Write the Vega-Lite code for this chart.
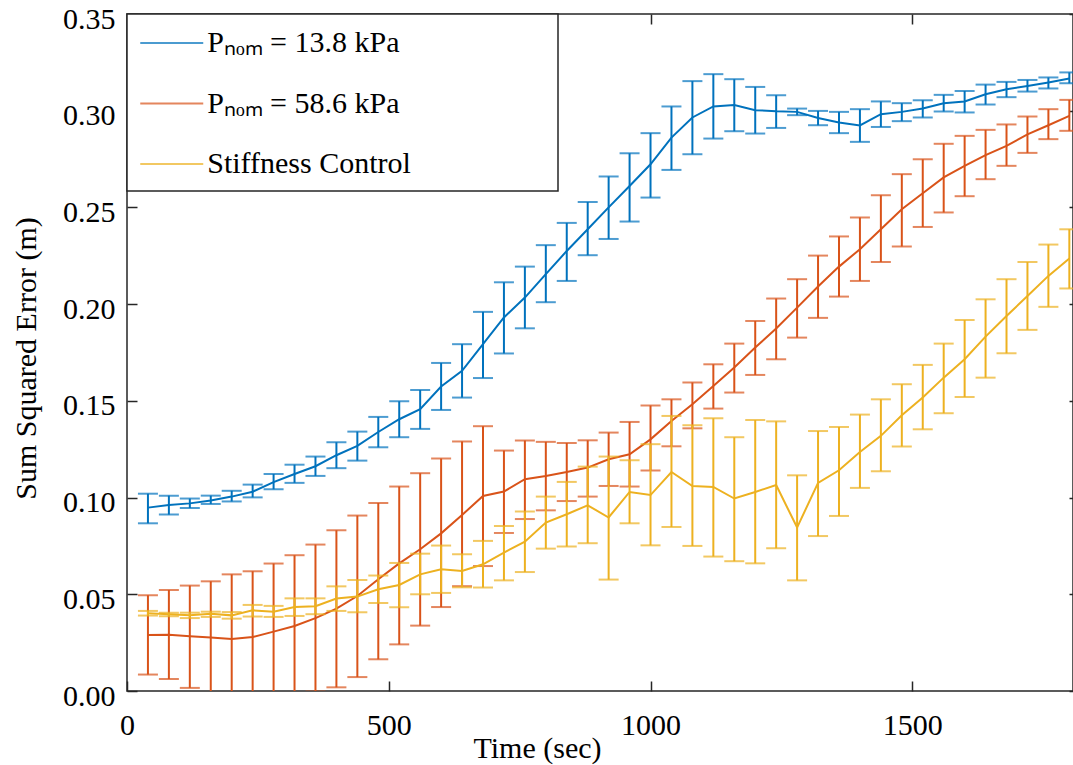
{
  "$schema": "https://vega.github.io/schema/vega-lite/v6.json",
  "autosize": {"type": "none"},
  "padding": {"left": 127, "top": 14, "right": 0, "bottom": 74},
  "width": 946,
  "height": 677,
  "config": {
    "view": {"stroke": "#262626", "strokeWidth": 1.5},
    "font": "Liberation Serif",
    "legend": {"strokeWidth": 1.5},
    "axis": {"grid": false, "domain": false, "tickColor": "#262626", "tickWidth": 1.5, "labelFont": "Liberation Serif", "labelFontSize": 30, "labelColor": "#000000", "titleFont": "Liberation Serif", "titleFontSize": 30, "titleFontWeight": "normal", "titleColor": "#000000", "labelFlush": false, "labelOverlap": false}
  },
  "datasets": {
    "blue": [
      {"series":"P\u2099\u2092\u2098 = 13.8 kPa","t":40,"m":0.0948,"lo":0.0867,"hi":0.102},
      {"series":"P\u2099\u2092\u2098 = 13.8 kPa","t":80,"m":0.0962,"lo":0.0912,"hi":0.101},
      {"series":"P\u2099\u2092\u2098 = 13.8 kPa","t":120,"m":0.097,"lo":0.0946,"hi":0.0995},
      {"series":"P\u2099\u2092\u2098 = 13.8 kPa","t":160,"m":0.0985,"lo":0.0967,"hi":0.101},
      {"series":"P\u2099\u2092\u2098 = 13.8 kPa","t":200,"m":0.1005,"lo":0.098,"hi":0.1035},
      {"series":"P\u2099\u2092\u2098 = 13.8 kPa","t":240,"m":0.103,"lo":0.1001,"hi":0.1067},
      {"series":"P\u2099\u2092\u2098 = 13.8 kPa","t":280,"m":0.108,"lo":0.1043,"hi":0.1122},
      {"series":"P\u2099\u2092\u2098 = 13.8 kPa","t":320,"m":0.1122,"lo":0.1076,"hi":0.117},
      {"series":"P\u2099\u2092\u2098 = 13.8 kPa","t":360,"m":0.1162,"lo":0.1112,"hi":0.1212},
      {"series":"P\u2099\u2092\u2098 = 13.8 kPa","t":400,"m":0.1219,"lo":0.1152,"hi":0.1286},
      {"series":"P\u2099\u2092\u2098 = 13.8 kPa","t":440,"m":0.1267,"lo":0.1191,"hi":0.1341},
      {"series":"P\u2099\u2092\u2098 = 13.8 kPa","t":480,"m":0.1339,"lo":0.126,"hi":0.1417},
      {"series":"P\u2099\u2092\u2098 = 13.8 kPa","t":520,"m":0.1405,"lo":0.1312,"hi":0.1498},
      {"series":"P\u2099\u2092\u2098 = 13.8 kPa","t":560,"m":0.1457,"lo":0.1355,"hi":0.1556},
      {"series":"P\u2099\u2092\u2098 = 13.8 kPa","t":600,"m":0.1574,"lo":0.1453,"hi":0.1696},
      {"series":"P\u2099\u2092\u2098 = 13.8 kPa","t":640,"m":0.1655,"lo":0.1517,"hi":0.1793},
      {"series":"P\u2099\u2092\u2098 = 13.8 kPa","t":680,"m":0.1793,"lo":0.1618,"hi":0.196},
      {"series":"P\u2099\u2092\u2098 = 13.8 kPa","t":720,"m":0.1931,"lo":0.1745,"hi":0.2113},
      {"series":"P\u2099\u2092\u2098 = 13.8 kPa","t":760,"m":0.2034,"lo":0.1875,"hi":0.2194},
      {"series":"P\u2099\u2092\u2098 = 13.8 kPa","t":800,"m":0.2155,"lo":0.201,"hi":0.2305},
      {"series":"P\u2099\u2092\u2098 = 13.8 kPa","t":840,"m":0.2275,"lo":0.212,"hi":0.242},
      {"series":"P\u2099\u2092\u2098 = 13.8 kPa","t":880,"m":0.2387,"lo":0.2253,"hi":0.2528},
      {"series":"P\u2099\u2092\u2098 = 13.8 kPa","t":920,"m":0.25,"lo":0.2337,"hi":0.266},
      {"series":"P\u2099\u2092\u2098 = 13.8 kPa","t":960,"m":0.2611,"lo":0.2427,"hi":0.278},
      {"series":"P\u2099\u2092\u2098 = 13.8 kPa","t":1000,"m":0.2723,"lo":0.2551,"hi":0.2884},
      {"series":"P\u2099\u2092\u2098 = 13.8 kPa","t":1040,"m":0.2861,"lo":0.2694,"hi":0.3022},
      {"series":"P\u2099\u2092\u2098 = 13.8 kPa","t":1080,"m":0.2965,"lo":0.2775,"hi":0.3153},
      {"series":"P\u2099\u2092\u2098 = 13.8 kPa","t":1120,"m":0.3022,"lo":0.2856,"hi":0.3189},
      {"series":"P\u2099\u2092\u2098 = 13.8 kPa","t":1160,"m":0.303,"lo":0.2894,"hi":0.3163},
      {"series":"P\u2099\u2092\u2098 = 13.8 kPa","t":1200,"m":0.3003,"lo":0.2882,"hi":0.3123},
      {"series":"P\u2099\u2092\u2098 = 13.8 kPa","t":1240,"m":0.2997,"lo":0.2911,"hi":0.308},
      {"series":"P\u2099\u2092\u2098 = 13.8 kPa","t":1280,"m":0.2994,"lo":0.2977,"hi":0.3011},
      {"series":"P\u2099\u2092\u2098 = 13.8 kPa","t":1320,"m":0.2962,"lo":0.2925,"hi":0.2999},
      {"series":"P\u2099\u2092\u2098 = 13.8 kPa","t":1360,"m":0.2939,"lo":0.2884,"hi":0.2994},
      {"series":"P\u2099\u2092\u2098 = 13.8 kPa","t":1400,"m":0.2924,"lo":0.2839,"hi":0.3008},
      {"series":"P\u2099\u2092\u2098 = 13.8 kPa","t":1440,"m":0.2982,"lo":0.2916,"hi":0.3048},
      {"series":"P\u2099\u2092\u2098 = 13.8 kPa","t":1480,"m":0.2994,"lo":0.2946,"hi":0.3039},
      {"series":"P\u2099\u2092\u2098 = 13.8 kPa","t":1520,"m":0.3011,"lo":0.2965,"hi":0.3054},
      {"series":"P\u2099\u2092\u2098 = 13.8 kPa","t":1560,"m":0.3039,"lo":0.2996,"hi":0.3082},
      {"series":"P\u2099\u2092\u2098 = 13.8 kPa","t":1600,"m":0.3048,"lo":0.2991,"hi":0.3102},
      {"series":"P\u2099\u2092\u2098 = 13.8 kPa","t":1640,"m":0.3085,"lo":0.3032,"hi":0.3135},
      {"series":"P\u2099\u2092\u2098 = 13.8 kPa","t":1680,"m":0.3111,"lo":0.307,"hi":0.3149},
      {"series":"P\u2099\u2092\u2098 = 13.8 kPa","t":1720,"m":0.3128,"lo":0.3099,"hi":0.3159},
      {"series":"P\u2099\u2092\u2098 = 13.8 kPa","t":1760,"m":0.3146,"lo":0.3115,"hi":0.3172},
      {"series":"P\u2099\u2092\u2098 = 13.8 kPa","t":1800,"m":0.3166,"lo":0.3142,"hi":0.3198}
    ],
    "orange": [
      {"series":"P\u2099\u2092\u2098 = 58.6 kPa","t":40,"m":0.029,"lo":0.0085,"hi":0.0495},
      {"series":"P\u2099\u2092\u2098 = 58.6 kPa","t":80,"m":0.0291,"lo":0.0062,"hi":0.0522},
      {"series":"P\u2099\u2092\u2098 = 58.6 kPa","t":120,"m":0.0283,"lo":0.0016,"hi":0.0545},
      {"series":"P\u2099\u2092\u2098 = 58.6 kPa","t":160,"m":0.0276,"lo":-0.0015,"hi":0.0567},
      {"series":"P\u2099\u2092\u2098 = 58.6 kPa","t":200,"m":0.0269,"lo":-0.0065,"hi":0.0603},
      {"series":"P\u2099\u2092\u2098 = 58.6 kPa","t":240,"m":0.0279,"lo":-0.006,"hi":0.0619},
      {"series":"P\u2099\u2092\u2098 = 58.6 kPa","t":280,"m":0.0307,"lo":-0.0045,"hi":0.0659},
      {"series":"P\u2099\u2092\u2098 = 58.6 kPa","t":320,"m":0.0336,"lo":-0.003,"hi":0.0702},
      {"series":"P\u2099\u2092\u2098 = 58.6 kPa","t":360,"m":0.0377,"lo":-0.0003,"hi":0.0757},
      {"series":"P\u2099\u2092\u2098 = 58.6 kPa","t":400,"m":0.0426,"lo":0.0019,"hi":0.0831},
      {"series":"P\u2099\u2092\u2098 = 58.6 kPa","t":440,"m":0.0491,"lo":0.0072,"hi":0.0907},
      {"series":"P\u2099\u2092\u2098 = 58.6 kPa","t":480,"m":0.0578,"lo":0.0164,"hi":0.0972},
      {"series":"P\u2099\u2092\u2098 = 58.6 kPa","t":520,"m":0.066,"lo":0.0241,"hi":0.1057},
      {"series":"P\u2099\u2092\u2098 = 58.6 kPa","t":560,"m":0.0733,"lo":0.0338,"hi":0.1126},
      {"series":"P\u2099\u2092\u2098 = 58.6 kPa","t":600,"m":0.0815,"lo":0.0434,"hi":0.1202},
      {"series":"P\u2099\u2092\u2098 = 58.6 kPa","t":640,"m":0.091,"lo":0.0542,"hi":0.129},
      {"series":"P\u2099\u2092\u2098 = 58.6 kPa","t":680,"m":0.1008,"lo":0.0646,"hi":0.1369},
      {"series":"P\u2099\u2092\u2098 = 58.6 kPa","t":720,"m":0.1031,"lo":0.0817,"hi":0.1243},
      {"series":"P\u2099\u2092\u2098 = 58.6 kPa","t":760,"m":0.1095,"lo":0.0889,"hi":0.1295},
      {"series":"P\u2099\u2092\u2098 = 58.6 kPa","t":800,"m":0.1112,"lo":0.0934,"hi":0.1288},
      {"series":"P\u2099\u2092\u2098 = 58.6 kPa","t":840,"m":0.1132,"lo":0.0982,"hi":0.1282},
      {"series":"P\u2099\u2092\u2098 = 58.6 kPa","t":880,"m":0.1155,"lo":0.1005,"hi":0.1296},
      {"series":"P\u2099\u2092\u2098 = 58.6 kPa","t":920,"m":0.1198,"lo":0.106,"hi":0.1336},
      {"series":"P\u2099\u2092\u2098 = 58.6 kPa","t":960,"m":0.1224,"lo":0.1057,"hi":0.1391},
      {"series":"P\u2099\u2092\u2098 = 58.6 kPa","t":1000,"m":0.1301,"lo":0.114,"hi":0.1476},
      {"series":"P\u2099\u2092\u2098 = 58.6 kPa","t":1040,"m":0.1396,"lo":0.1265,"hi":0.1508},
      {"series":"P\u2099\u2092\u2098 = 58.6 kPa","t":1080,"m":0.1482,"lo":0.1358,"hi":0.1595},
      {"series":"P\u2099\u2092\u2098 = 58.6 kPa","t":1120,"m":0.1577,"lo":0.146,"hi":0.1689},
      {"series":"P\u2099\u2092\u2098 = 58.6 kPa","t":1160,"m":0.1672,"lo":0.1543,"hi":0.1796},
      {"series":"P\u2099\u2092\u2098 = 58.6 kPa","t":1200,"m":0.1776,"lo":0.1634,"hi":0.1913},
      {"series":"P\u2099\u2092\u2098 = 58.6 kPa","t":1240,"m":0.1874,"lo":0.1715,"hi":0.2029},
      {"series":"P\u2099\u2092\u2098 = 58.6 kPa","t":1280,"m":0.1982,"lo":0.1827,"hi":0.2129},
      {"series":"P\u2099\u2092\u2098 = 58.6 kPa","t":1320,"m":0.2091,"lo":0.1929,"hi":0.2251},
      {"series":"P\u2099\u2092\u2098 = 58.6 kPa","t":1360,"m":0.2194,"lo":0.2039,"hi":0.235},
      {"series":"P\u2099\u2092\u2098 = 58.6 kPa","t":1400,"m":0.2284,"lo":0.212,"hi":0.2448},
      {"series":"P\u2099\u2092\u2098 = 58.6 kPa","t":1440,"m":0.2387,"lo":0.2218,"hi":0.2563},
      {"series":"P\u2099\u2092\u2098 = 58.6 kPa","t":1480,"m":0.2491,"lo":0.2298,"hi":0.2672},
      {"series":"P\u2099\u2092\u2098 = 58.6 kPa","t":1520,"m":0.2573,"lo":0.2399,"hi":0.2749},
      {"series":"P\u2099\u2092\u2098 = 58.6 kPa","t":1560,"m":0.2655,"lo":0.2474,"hi":0.2829},
      {"series":"P\u2099\u2092\u2098 = 58.6 kPa","t":1600,"m":0.2715,"lo":0.2558,"hi":0.287},
      {"series":"P\u2099\u2092\u2098 = 58.6 kPa","t":1640,"m":0.277,"lo":0.2646,"hi":0.2901},
      {"series":"P\u2099\u2092\u2098 = 58.6 kPa","t":1680,"m":0.2818,"lo":0.2715,"hi":0.2929},
      {"series":"P\u2099\u2092\u2098 = 58.6 kPa","t":1720,"m":0.2878,"lo":0.2782,"hi":0.297},
      {"series":"P\u2099\u2092\u2098 = 58.6 kPa","t":1760,"m":0.2925,"lo":0.2853,"hi":0.3008},
      {"series":"P\u2099\u2092\u2098 = 58.6 kPa","t":1800,"m":0.2973,"lo":0.2896,"hi":0.3056}
    ],
    "yellow": [
      {"series":"Stiffness Control","t":40,"m":0.0402,"lo":0.039,"hi":0.0414},
      {"series":"Stiffness Control","t":80,"m":0.0397,"lo":0.0386,"hi":0.0405},
      {"series":"Stiffness Control","t":120,"m":0.0391,"lo":0.0377,"hi":0.0405},
      {"series":"Stiffness Control","t":160,"m":0.04,"lo":0.0383,"hi":0.041},
      {"series":"Stiffness Control","t":200,"m":0.0391,"lo":0.0374,"hi":0.0408},
      {"series":"Stiffness Control","t":240,"m":0.0417,"lo":0.0385,"hi":0.0445},
      {"series":"Stiffness Control","t":280,"m":0.041,"lo":0.0383,"hi":0.044},
      {"series":"Stiffness Control","t":320,"m":0.0434,"lo":0.0388,"hi":0.0479},
      {"series":"Stiffness Control","t":360,"m":0.0438,"lo":0.0397,"hi":0.0479},
      {"series":"Stiffness Control","t":400,"m":0.0478,"lo":0.0414,"hi":0.0541},
      {"series":"Stiffness Control","t":440,"m":0.0488,"lo":0.0407,"hi":0.0574},
      {"series":"Stiffness Control","t":480,"m":0.0526,"lo":0.0455,"hi":0.0597},
      {"series":"Stiffness Control","t":520,"m":0.0548,"lo":0.0433,"hi":0.0662},
      {"series":"Stiffness Control","t":560,"m":0.0603,"lo":0.05,"hi":0.071},
      {"series":"Stiffness Control","t":600,"m":0.0629,"lo":0.0507,"hi":0.0752},
      {"series":"Stiffness Control","t":640,"m":0.062,"lo":0.0536,"hi":0.0707},
      {"series":"Stiffness Control","t":680,"m":0.0655,"lo":0.0535,"hi":0.0776},
      {"series":"Stiffness Control","t":720,"m":0.0716,"lo":0.0572,"hi":0.0853},
      {"series":"Stiffness Control","t":760,"m":0.0772,"lo":0.0615,"hi":0.0928},
      {"series":"Stiffness Control","t":800,"m":0.0871,"lo":0.0736,"hi":0.1005},
      {"series":"Stiffness Control","t":840,"m":0.0914,"lo":0.0747,"hi":0.1081},
      {"series":"Stiffness Control","t":880,"m":0.096,"lo":0.0764,"hi":0.116},
      {"series":"Stiffness Control","t":920,"m":0.0897,"lo":0.0576,"hi":0.1212},
      {"series":"Stiffness Control","t":960,"m":0.1029,"lo":0.0867,"hi":0.1193},
      {"series":"Stiffness Control","t":1000,"m":0.1013,"lo":0.0753,"hi":0.1276},
      {"series":"Stiffness Control","t":1040,"m":0.1132,"lo":0.0848,"hi":0.1422},
      {"series":"Stiffness Control","t":1080,"m":0.106,"lo":0.075,"hi":0.1374},
      {"series":"Stiffness Control","t":1120,"m":0.1055,"lo":0.0695,"hi":0.141},
      {"series":"Stiffness Control","t":1160,"m":0.0995,"lo":0.0671,"hi":0.1312},
      {"series":"Stiffness Control","t":1200,"m":0.1029,"lo":0.066,"hi":0.1401},
      {"series":"Stiffness Control","t":1240,"m":0.1065,"lo":0.0738,"hi":0.1394},
      {"series":"Stiffness Control","t":1280,"m":0.0845,"lo":0.0572,"hi":0.1115},
      {"series":"Stiffness Control","t":1320,"m":0.1076,"lo":0.0801,"hi":0.1344},
      {"series":"Stiffness Control","t":1360,"m":0.1141,"lo":0.0905,"hi":0.1365},
      {"series":"Stiffness Control","t":1400,"m":0.1236,"lo":0.105,"hi":0.1429},
      {"series":"Stiffness Control","t":1440,"m":0.1319,"lo":0.1136,"hi":0.1508},
      {"series":"Stiffness Control","t":1480,"m":0.1426,"lo":0.1264,"hi":0.1586},
      {"series":"Stiffness Control","t":1520,"m":0.1517,"lo":0.1353,"hi":0.1686},
      {"series":"Stiffness Control","t":1560,"m":0.162,"lo":0.1436,"hi":0.1796},
      {"series":"Stiffness Control","t":1600,"m":0.1715,"lo":0.152,"hi":0.1918},
      {"series":"Stiffness Control","t":1640,"m":0.1832,"lo":0.162,"hi":0.2025},
      {"series":"Stiffness Control","t":1680,"m":0.1939,"lo":0.1746,"hi":0.2129},
      {"series":"Stiffness Control","t":1720,"m":0.2042,"lo":0.1867,"hi":0.2218},
      {"series":"Stiffness Control","t":1760,"m":0.2146,"lo":0.1986,"hi":0.2308},
      {"series":"Stiffness Control","t":1800,"m":0.2236,"lo":0.2081,"hi":0.2387}
    ]
  },
  "layer": [
    {"data": {"name": "blue"}, "mark": {"type": "rule", "strokeWidth": 2, "clip": true},
     "encoding": {
       "x": {"field": "t", "type": "quantitative", "scale": {"domain": [0, 1807], "nice": false, "zero": false},
             "axis": {"orient": "bottom", "values": [0, 500, 1000, 1500], "format": "d", "tickSize": -10, "labelPadding": 29, "title": "Time (sec)", "titleX": 410, "titleY": 66, "titleBaseline": "alphabetic", "titleAlign": "center"}},
       "y": {"field": "lo", "type": "quantitative", "scale": {"domain": [0, 0.35], "nice": false, "zero": false},
             "axis": {"orient": "left", "values": [0, 0.05, 0.1, 0.15, 0.2, 0.25, 0.3, 0.35], "format": ".2f", "tickSize": -10, "labelPadding": 22, "labelOffset": 5, "title": "Sum Squared Error (m)", "titleX": -92, "titleY": 344, "titleBaseline": "alphabetic", "titleAngle": -90, "titleAlign": "center"}},
       "y2": {"field": "hi"},
       "color": {"field": "series", "type": "nominal",
                 "scale": {"domain": ["P\u2099\u2092\u2098 = 13.8 kPa", "P\u2099\u2092\u2098 = 58.6 kPa", "Stiffness Control"], "range": ["#0072BD", "#D95319", "#EDB120"]},
                 "legend": {"orient": "top-left", "offset": 0, "title": null, "symbolType": "M-2,0H2", "symbolSize": 992, "symbolStrokeWidth": 2, "symbolOffset": 15.75, "labelOffset": 18.5, "labelFont": "Liberation Serif", "labelFontSize": 30, "labelColor": "#000000", "labelLimit": 0, "padding": 12, "rowPadding": 28.5, "fillColor": "#ffffff", "strokeColor": "#262626", "cornerRadius": 0,
                            "labelExpr": "datum.label + '\u00a0\u00a0\u00a0\u00a0\u00a0\u00a0\u00a0\u00a0\u00a0\u00a0\u00a0\u00a0\u00a0\u00a0\u00a0\u00a0\u00a0\u00a0\u200b'"}}
     }},
    {"data": {"name": "blue"}, "mark": {"type": "tick", "orient": "horizontal", "size": 20, "thickness": 2, "clip": true},
     "encoding": {"x": {"field": "t", "type": "quantitative", "scale": {"domain": [0, 1807], "nice": false, "zero": false}, "axis": null},
                  "y": {"field": "lo", "type": "quantitative", "scale": {"domain": [0, 0.35], "nice": false, "zero": false}, "axis": null},
                  "color": {"field": "series", "type": "nominal"}}},
    {"data": {"name": "blue"}, "mark": {"type": "tick", "orient": "horizontal", "size": 20, "thickness": 2, "clip": true},
     "encoding": {"x": {"field": "t", "type": "quantitative", "scale": {"domain": [0, 1807], "nice": false, "zero": false}, "axis": null},
                  "y": {"field": "hi", "type": "quantitative", "scale": {"domain": [0, 0.35], "nice": false, "zero": false}, "axis": null},
                  "color": {"field": "series", "type": "nominal"}}},
    {"data": {"name": "blue"}, "mark": {"type": "line", "strokeWidth": 2, "clip": true},
     "encoding": {"x": {"field": "t", "type": "quantitative", "scale": {"domain": [0, 1807], "nice": false, "zero": false}, "axis": null},
                  "y": {"field": "m", "type": "quantitative", "scale": {"domain": [0, 0.35], "nice": false, "zero": false}, "axis": null},
                  "color": {"field": "series", "type": "nominal"}}},
    {"data": {"name": "orange"}, "mark": {"type": "rule", "strokeWidth": 2, "clip": true},
     "encoding": {"x": {"field": "t", "type": "quantitative", "scale": {"domain": [0, 1807], "nice": false, "zero": false}, "axis": null},
                  "y": {"field": "lo", "type": "quantitative", "scale": {"domain": [0, 0.35], "nice": false, "zero": false}, "axis": null},
                  "y2": {"field": "hi"},
                  "color": {"field": "series", "type": "nominal"}}},
    {"data": {"name": "orange"}, "mark": {"type": "tick", "orient": "horizontal", "size": 20, "thickness": 2, "clip": true},
     "encoding": {"x": {"field": "t", "type": "quantitative", "scale": {"domain": [0, 1807], "nice": false, "zero": false}, "axis": null},
                  "y": {"field": "lo", "type": "quantitative", "scale": {"domain": [0, 0.35], "nice": false, "zero": false}, "axis": null},
                  "color": {"field": "series", "type": "nominal"}}},
    {"data": {"name": "orange"}, "mark": {"type": "tick", "orient": "horizontal", "size": 20, "thickness": 2, "clip": true},
     "encoding": {"x": {"field": "t", "type": "quantitative", "scale": {"domain": [0, 1807], "nice": false, "zero": false}, "axis": null},
                  "y": {"field": "hi", "type": "quantitative", "scale": {"domain": [0, 0.35], "nice": false, "zero": false}, "axis": null},
                  "color": {"field": "series", "type": "nominal"}}},
    {"data": {"name": "orange"}, "mark": {"type": "line", "strokeWidth": 2, "clip": true},
     "encoding": {"x": {"field": "t", "type": "quantitative", "scale": {"domain": [0, 1807], "nice": false, "zero": false}, "axis": null},
                  "y": {"field": "m", "type": "quantitative", "scale": {"domain": [0, 0.35], "nice": false, "zero": false}, "axis": null},
                  "color": {"field": "series", "type": "nominal"}}},
    {"data": {"name": "yellow"}, "mark": {"type": "rule", "strokeWidth": 2, "clip": true},
     "encoding": {"x": {"field": "t", "type": "quantitative", "scale": {"domain": [0, 1807], "nice": false, "zero": false}, "axis": null},
                  "y": {"field": "lo", "type": "quantitative", "scale": {"domain": [0, 0.35], "nice": false, "zero": false}, "axis": null},
                  "y2": {"field": "hi"},
                  "color": {"field": "series", "type": "nominal"}}},
    {"data": {"name": "yellow"}, "mark": {"type": "tick", "orient": "horizontal", "size": 20, "thickness": 2, "clip": true},
     "encoding": {"x": {"field": "t", "type": "quantitative", "scale": {"domain": [0, 1807], "nice": false, "zero": false}, "axis": null},
                  "y": {"field": "lo", "type": "quantitative", "scale": {"domain": [0, 0.35], "nice": false, "zero": false}, "axis": null},
                  "color": {"field": "series", "type": "nominal"}}},
    {"data": {"name": "yellow"}, "mark": {"type": "tick", "orient": "horizontal", "size": 20, "thickness": 2, "clip": true},
     "encoding": {"x": {"field": "t", "type": "quantitative", "scale": {"domain": [0, 1807], "nice": false, "zero": false}, "axis": null},
                  "y": {"field": "hi", "type": "quantitative", "scale": {"domain": [0, 0.35], "nice": false, "zero": false}, "axis": null},
                  "color": {"field": "series", "type": "nominal"}}},
    {"data": {"name": "yellow"}, "mark": {"type": "line", "strokeWidth": 2, "clip": true},
     "encoding": {"x": {"field": "t", "type": "quantitative", "scale": {"domain": [0, 1807], "nice": false, "zero": false}, "axis": null},
                  "y": {"field": "m", "type": "quantitative", "scale": {"domain": [0, 0.35], "nice": false, "zero": false}, "axis": null},
                  "color": {"field": "series", "type": "nominal"}}},
    {"data": {"name": "blue"}, "mark": {"type": "point", "opacity": 0},
     "encoding": {"x": {"field": "t", "type": "quantitative", "scale": {"domain": [0, 1807], "nice": false, "zero": false},
                        "axis": {"orient": "top", "values": [500, 1000, 1500], "tickSize": -10, "labels": false, "title": null}},
                  "y": {"field": "m", "type": "quantitative", "scale": {"domain": [0, 0.35], "nice": false, "zero": false},
                        "axis": {"orient": "right", "values": [0, 0.05, 0.1, 0.15, 0.2, 0.25, 0.3, 0.35], "tickSize": -4, "labels": false, "title": null}}}}
  ],
  "resolve": {"axis": {"x": "independent", "y": "independent"}}
}
